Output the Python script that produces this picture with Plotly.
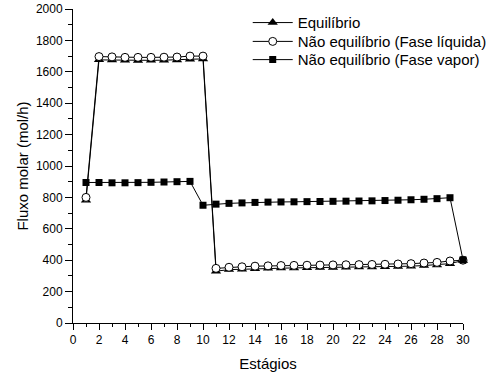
import plotly.graph_objects as go

# Stages of the column
estagios = list(range(1, 31))

# Molar flows (mol/h) per stage
equilibrio = [782, 1676, 1675, 1673, 1672, 1673, 1674, 1675, 1680, 1682,
              330, 340, 343, 346, 348, 350, 351, 352, 353, 354,
              355, 356, 357, 358, 360, 362, 366, 370, 378, 398]
liquido = [800, 1697, 1695, 1692, 1692, 1692, 1693, 1694, 1700, 1700,
           348, 355, 358, 362, 364, 366, 367, 368, 369, 370,
           371, 372, 373, 374, 376, 378, 382, 386, 395, 400]
vapor = [895, 895, 893, 893, 894, 896, 898, 900, 902, 750,
         757, 762, 765, 768, 770, 771, 772, 773, 774, 775,
         776, 777, 778, 780, 782, 785, 788, 792, 798, 402]

font_family = "Liberation Sans, Arial, sans-serif"

fig = go.Figure()
fig.add_trace(go.Scatter(
    x=estagios, y=equilibrio, name="Equilíbrio", mode="lines+markers",
    line=dict(color="black", width=1),
    marker=dict(symbol="triangle-up", size=9, color="black"),
    cliponaxis=False, legend="legend"))
fig.add_trace(go.Scatter(
    x=estagios, y=liquido, name="Não equilíbrio (Fase líquida)", mode="lines+markers",
    line=dict(color="black", width=1),
    marker=dict(symbol="circle", size=8, color="white",
                line=dict(color="black", width=1)),
    cliponaxis=False, legend="legend2"))
fig.add_trace(go.Scatter(
    x=estagios, y=vapor, name="Não equilíbrio (Fase vapor)", mode="lines+markers",
    line=dict(color="black", width=1),
    marker=dict(symbol="square", size=7, color="black"),
    cliponaxis=False, legend="legend3"))

tick_font = dict(size=12, color="black", family=font_family)
title_font = dict(size=15, color="black", family=font_family)
axis_common = dict(
    showgrid=False, zeroline=False, showline=True, linecolor="black", linewidth=1,
    ticks="outside", tickcolor="black", tickwidth=1, tickfont=tick_font,
)

fig.update_xaxes(
    range=[0, 30], dtick=2, tick0=0, ticklen=6,
    minor=dict(ticks="outside", dtick=1, ticklen=3, tickcolor="black"),
    title=dict(text="Estágios", font=title_font, standoff=12),
    **axis_common)
fig.update_yaxes(
    range=[0, 2000], dtick=200, tick0=0, ticklen=7,
    minor=dict(ticks="outside", dtick=100, ticklen=4, tickcolor="black"),
    title=dict(text="Fluxo molar (mol/h)", font=title_font, standoff=3),
    **axis_common)

legend_common = dict(
    x=0.448, xanchor="left", yanchor="middle",
    bgcolor="rgba(0,0,0,0)", borderwidth=0, itemwidth=40,
    font=dict(size=15, color="black", family=font_family),
)

fig.update_layout(
    width=495, height=377,
    margin=dict(l=73, r=32, t=9, b=54, autoexpand=False),
    paper_bgcolor="white", plot_bgcolor="white",
    font=dict(family=font_family, color="black"),
    legend=dict(y=0.956, **legend_common),
    legend2=dict(y=0.896, **legend_common),
    legend3=dict(y=0.838, **legend_common),
    showlegend=True,
)

fig.write_html("out.html")
